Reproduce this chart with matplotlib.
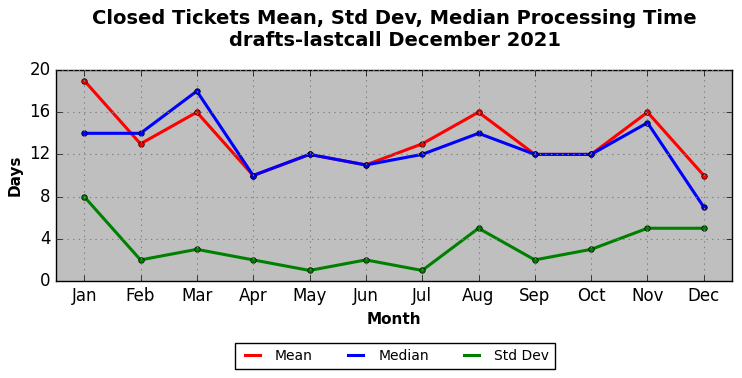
import matplotlib
matplotlib.use("Agg")
import matplotlib.pyplot as plt

months = ['Jan', 'Feb', 'Mar', 'Apr', 'May', 'Jun', 'Jul', 'Aug', 'Sep', 'Oct', 'Nov', 'Dec']
mean_days = [19, 13, 16, 10, 12, 11, 13, 16, 12, 12, 16, 10]
median_days = [14, 14, 18, 10, 12, 11, 12, 14, 12, 12, 15, 7]
std_days = [8, 2, 3, 2, 1, 2, 1, 5, 2, 3, 5, 5]
yticks = [0, 4, 8, 12, 16, 20]

plt.style.use('classic')
fig = plt.figure(figsize=(7.42, 3.78), dpi=100, facecolor='white')
ax = fig.add_axes([56 / 742, 1 - 281 / 378, 676 / 742, 211 / 378])
ax.set_facecolor('#bfbfbf')

x = list(range(len(months)))
ax.plot(x, mean_days, color='r', lw=2.2, marker='o', ms=4, label='Mean')
ax.plot(x, median_days, color='b', lw=2.2, marker='o', ms=4, label='Median')
ax.plot(x, std_days, color='g', lw=2.2, marker='o', ms=4, label='Std Dev')

ax.set_xlim(-0.5, len(months) - 0.5)
ax.set_ylim(0, 20)
ax.set_xticks(x)
ax.set_xticklabels(months, fontsize=12)
ax.set_yticks(yticks)
ax.tick_params(axis='y', labelsize=12)
ax.grid(True, color='gray', linestyle=':', linewidth=0.8)

ax.set_xlabel('Month', fontsize=11, fontweight='bold')
ax.set_ylabel('Days', fontsize=11, fontweight='bold')
fig.suptitle('Closed Tickets Mean, Std Dev, Median Processing Time\ndrafts-lastcall December 2021',
             fontsize=14, fontweight='bold', x=0.532, y=0.975)

handles = [plt.Line2D([], [], color=c, lw=2.2) for c in ('r', 'b', 'g')]
fig.legend(handles, ['Mean', 'Median', 'Std Dev'], loc='center', ncol=3,
           bbox_to_anchor=(0.532, 1 - 356 / 378), fontsize=10, frameon=True,
           fancybox=False, handlelength=1.7, handletextpad=0.8,
           columnspacing=2.2, borderpad=0.4)

fig.savefig('out.png', dpi=100, facecolor='white')
